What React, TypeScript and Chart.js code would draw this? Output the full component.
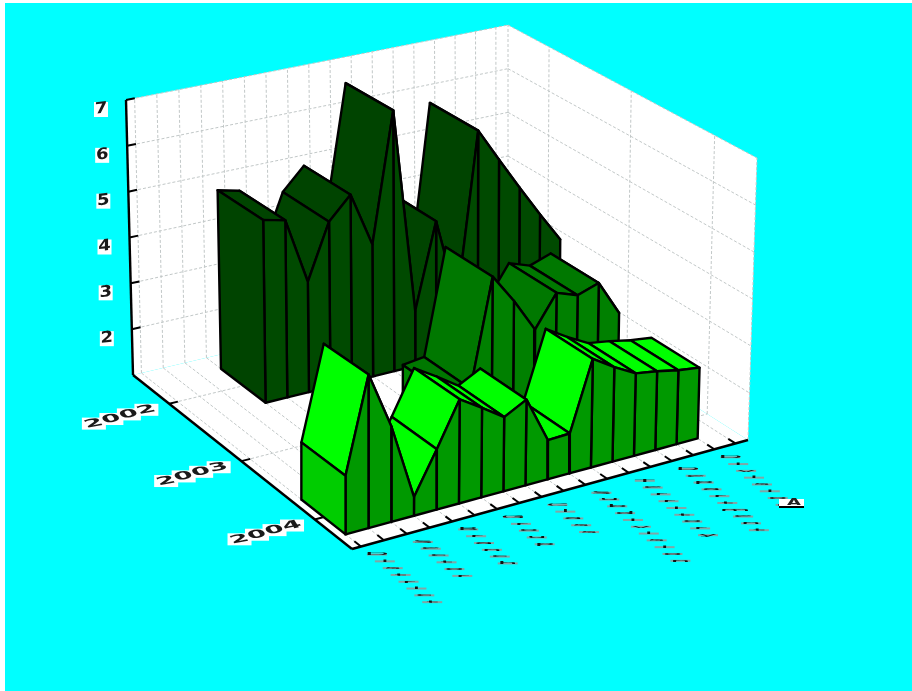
import { useEffect, useRef } from "react";
import { Chart, registerables } from "chart.js";

Chart.register(...registerables);

// Values per category; null means the year has no reading there.
const year2002 = [null, null, null, 4.9, 4.79, 3.37, 4.56, 5.04, 3.86, 6.68, 2.2, 4.06, 2.22, 5.86, 5.12, 4.4, 3.7, 3.04];
const year2003 = [null, null, null, null, null, null, null, null, 1.7, 1.76, 4.02, 3.4, 2.68, 3.36, 3.2, 3.36, 2.6, null];
const year2004 = [2.14, 4.0, 2.87, 1.37, 2.2, 3.08, 2.8, 2.5, 2.74, 1.8, 1.82, 3.24, 2.96, 2.72, 2.65, 2.56, 2.5, null];

const yearLabels = ["2002", "2003", "2004"];
const valueTicks = [2, 3, 4, 5, 6, 7];
const categoryLabels = ["District", "Sector", "Branch", "Group", "Class", "Subdivision", "Territory", "Department", "Division"];
const axisTitle = "A";

const rowColors = [
  { top: "#004400", front: "#004a00", cap: "#004400" },
  { top: "#007800", front: "#008000", cap: "#008800" },
  { top: "#00ff00", front: "#009900", cap: "#00cc00" },
];

const WIDTH = 907;
const HEIGHT = 688;
const Z_MIN = 1;
const Z_MAX = 7;
const ROW_CENTERS = [0.165, 0.495, 0.83];
const ROW_HALF = 0.1;
const EDGE = 2.4;

type Pt = { x: number; y: number };

// Corners of the plot box as seen by the camera: [depth][along] for floor and ceiling.
const floorBox = [[{ x: 133, y: 375 }, { x: 508, y: 287 }], [{ x: 352, y: 549 }, { x: 748, y: 440 }]];
const ceilBox = [[{ x: 126, y: 100 }, { x: 508, y: 25 }], [{ x: 352, y: 237 }, { x: 757, y: 158 }]];

const mix = (a: Pt, b: Pt, t: number): Pt => ({ x: a.x + (b.x - a.x) * t, y: a.y + (b.y - a.y) * t });
const warp = (t: number) => (t * 1.05) / (1 + 0.05 * t);
const along = (i: number) => 0.0215 + i * 0.0556;

function project(u: number, v: number, z: number): Pt {
  const w = (z - Z_MIN) / (Z_MAX - Z_MIN);
  const uu = warp(u);
  const f = mix(mix(floorBox[0][0], floorBox[0][1], uu), mix(floorBox[1][0], floorBox[1][1], uu), v);
  const c = mix(mix(ceilBox[0][0], ceilBox[0][1], uu), mix(ceilBox[1][0], ceilBox[1][1], uu), v);
  return mix(f, c, w);
}

type Spec = Record<string, unknown>;
const poly = (pts: Pt[], fillColor: string, stroke = "#000", width = EDGE): Spec => ({
  data: [...pts, pts[0]],
  backgroundColor: fillColor,
  borderColor: stroke,
  borderWidth: width,
  fill: "shape",
  showLine: true,
  pointRadius: 0,
  tension: 0,
  borderJoinStyle: "round",
  borderCapStyle: "round",
  clip: false,
});
const line = (a: Pt, b: Pt, color: string, width: number, dash: number[] = []): Spec => ({
  data: [a, b],
  borderColor: color,
  borderWidth: width,
  borderDash: dash,
  fill: false,
  showLine: true,
  pointRadius: 0,
  clip: false,
});

const GRID = "#c2c8c8";
const DASH = [3, 2];

function wallDatasets(): Spec[] {
  const out: Spec[] = [];
  out.push(poly([project(0, 0, 1), project(1, 0, 1), project(1, 0, 7), project(0, 0, 7)], "#fff", "#fff", 0));
  out.push(poly([project(1, 0, 1), project(1, 1, 1), project(1, 1, 7), project(1, 0, 7)], "#fff", "#fff", 0));
  out.push(poly([project(0, 0, 1), project(1, 0, 1), project(1, 1, 1), project(0, 1, 1)], "#fff", "#fff", 0));
  valueTicks.forEach((z) => {
    out.push(line(project(0, 0, z), project(1, 0, z), GRID, 1, DASH));
    out.push(line(project(1, 0, z), project(1, 1, z), GRID, 1, DASH));
  });
  year2004.forEach((_, i) => {
    out.push(line(project(along(i), 0, 1), project(along(i), 0, 7), GRID, 1, DASH));
    out.push(line(project(along(i), 0, 1), project(along(i), 1, 1), GRID, 1, DASH));
  });
  ROW_CENTERS.forEach((v) => {
    out.push(line(project(1, v, 1), project(1, v, 7), GRID, 1, DASH));
    out.push(line(project(0, v, 1), project(1, v, 1), GRID, 1, DASH));
  });
  out.push(line(project(1, 0, 1), project(1, 0, 7), GRID, 1, DASH));
  out.push(line(project(1, 1, 1), project(1, 1, 7), GRID, 1, DASH));
  return out;
}

// Each row is painted from its far right end to its near left end, cap last.
function ribbonDatasets(values: (number | null)[], row: number): Spec[] {
  const out: Spec[] = [];
  const back = ROW_CENTERS[row] - ROW_HALF;
  const front = ROW_CENTERS[row] + ROW_HALF;
  const c = rowColors[row];
  for (let i = values.length - 2; i >= 0; i--) {
    const a = values[i];
    const b = values[i + 1];
    if (a == null || b == null) continue;
    const ua = along(i);
    const ub = along(i + 1);
    out.push(poly([project(ua, back, a), project(ub, back, b), project(ub, front, b), project(ua, front, a)], c.top));
    out.push(poly([project(ua, front, a), project(ub, front, b), project(ub, front, 1), project(ua, front, 1)], c.front));
  }
  const first = values.findIndex((x) => x != null);
  const uf = along(first);
  const zf = values[first] as number;
  out.push(poly([project(uf, back, zf), project(uf, front, zf), project(uf, front, 1), project(uf, back, 1)], c.cap));
  return out;
}

function axisDatasets(): Spec[] {
  const out: Spec[] = [];
  out.push(line(project(0, 0, 1), project(0, 0, 7), "#000", 2.4));
  out.push(line(project(0, 0, 1), project(0, 1, 1), "#000", 2.4));
  out.push(line(project(0, 1, 1), project(1, 1, 1), "#000", 2.4));
  valueTicks.forEach((z) => out.push(line(project(0, 0, z), project(0.022, 0, z), "#000", 2)));
  ROW_CENTERS.forEach((v) => out.push(line(project(0, v, 1), project(0.022, v, 1), "#000", 2)));
  year2004.forEach((_, i) => out.push(line(project(along(i), 1, 1), project(along(i), 0.97, 1), "#000", 2)));
  return out;
}

// Tick labels are warped bitmaps in a box-perspective look, drawn as text in the scale's space.
const labelPlugin = {
  id: "boxLabels",
  afterDatasetsDraw(chart: Chart) {
    const { ctx, scales } = chart;
    const sx = (x: number) => scales.x.getPixelForValue(x);
    const sy = (y: number) => scales.y.getPixelForValue(y);
    ctx.save();
    ctx.textAlign = "center";
    ctx.textBaseline = "middle";

    valueTicks.forEach((z) => {
      const p = project(0, 0, z);
      const x = sx(p.x - 25);
      const y = sy(p.y + 9);
      ctx.fillStyle = "#fff";
      ctx.fillRect(x - 7, y - 7, 14, 15);
      ctx.save();
      ctx.translate(x, y);
      ctx.transform(1.2, -0.14, 0, 1.05, 0, 0);
      ctx.fillStyle = "#1a1a1a";
      ctx.font = 'bold 15px "DejaVu Sans"';
      ctx.fillText(String(z), 0, 0);
      ctx.restore();
    });

    yearLabels.forEach((label, r) => {
      const p = project(0, ROW_CENTERS[r], 1);
      const cx = sx(p.x - 49);
      const cy = sy(p.y + 13);
      [...label].forEach((_, i) => {
        const x = cx + (i - 1.5) * 17.5;
        const y = cy - (i - 1.5) * 4.6;
        ctx.fillStyle = "#fff";
        ctx.fillRect(x - 12, y - 6, 24, 12);
      });
      [...label].forEach((ch, i) => {
        const x = cx + (i - 1.5) * 17.5;
        const y = cy - (i - 1.5) * 4.6;
        ctx.save();
        ctx.translate(x, y);
        ctx.transform(2.0, -0.38, 0.5, 0.8, 0, 0);
        ctx.fillStyle = "#1a1a1a";
        ctx.font = 'bold 13px "DejaVu Sans"';
        ctx.fillText(ch, 0, 0);
        ctx.restore();
      });
    });

    categoryLabels.forEach((label, k) => {
      const p = project(along(k * 2), 1, 1);
      [...label].forEach((ch, i) => {
        ctx.save();
        ctx.translate(sx(p.x + 16 + i * 7.9), sy(p.y + 8 + i * 6.8));
        // A broad flat bar sits behind each squeezed glyph.
        ctx.fillStyle = "rgba(150,150,150,0.85)";
        ctx.fillRect(-10, -1, 20, 2);
        ctx.scale(3.2, 0.3);
        ctx.fillStyle = "#111";
        ctx.font = '10px "DejaVu Sans"';
        ctx.fillText(ch, 0, 0);
        ctx.restore();
      });
    });

    ctx.fillStyle = "#fff";
    ctx.fillRect(sx(779), sy(499), 25, 9);
    ctx.fillStyle = "#000";
    ctx.fillRect(sx(779), sy(506), 25, 2);
    ctx.save();
    ctx.translate(sx(794), sy(503));
    ctx.scale(1.8, 0.85);
    ctx.fillStyle = "#222";
    ctx.font = 'bold 10px "DejaVu Sans"';
    ctx.fillText(axisTitle, 0, 0);
    ctx.restore();
    ctx.restore();
  },
};

export default function App() {
  const ref = useRef<HTMLCanvasElement>(null);
  useEffect(() => {
    if (!ref.current) return;
    const painted: Spec[] = [
      ...wallDatasets(),
      ...ribbonDatasets(year2002, 0),
      ...ribbonDatasets(year2003, 1),
      ...axisDatasets(),
      ...ribbonDatasets(year2004, 2),
    ];
    // Chart.js paints the first dataset last, so the stack is listed nearest-first.
    const chart = new Chart(ref.current, {
      type: "scatter",
      data: { datasets: painted.reverse() as never },
      options: {
        animation: false,
        responsive: false,
        devicePixelRatio: 1,
        layout: { padding: 0 },
        plugins: { legend: { display: false }, tooltip: { enabled: false } },
        scales: {
          x: { type: "linear", display: false, min: 5, max: 5 + WIDTH },
          y: { type: "linear", display: false, min: 3, max: 3 + HEIGHT, reverse: true },
        },
      },
      plugins: [labelPlugin],
    });
    return () => chart.destroy();
  }, []);
  return (
    <div style={{ position: "fixed", left: 0, top: 0, width: 912, height: 691, background: "#fff", overflow: "hidden" }}>
      <canvas
        ref={ref}
        width={WIDTH}
        height={HEIGHT}
        style={{ position: "absolute", left: 5, top: 3, width: WIDTH, height: HEIGHT, background: "#00ffff" }}
      />
    </div>
  );
}
